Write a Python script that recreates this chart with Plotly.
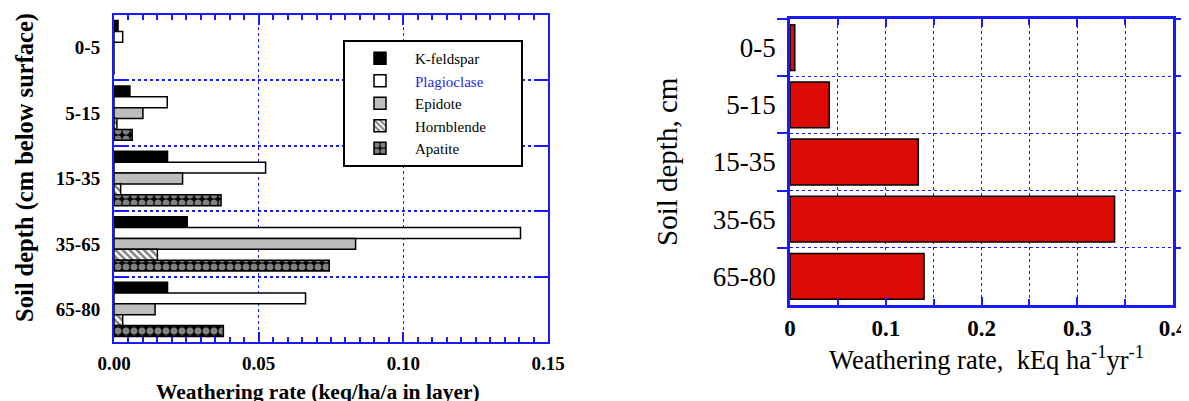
import plotly.graph_objects as go

# page body has an 8px default margin; figure is sized to fill the remaining window
OFF = 8
W, H = 1189 - OFF, 401 - OFF

depths = ["0-5", "5-15", "15-35", "35-65", "65-80"]
minerals = ["K-feldspar", "Plagioclase", "Epidote", "Hornblende", "Apatite"]
kfeldspar = [0.0014, 0.0055, 0.0185, 0.0253, 0.0185]
plagioclase = [0.003, 0.0184, 0.0524, 0.1405, 0.0662]
epidote = [0.0, 0.010, 0.0237, 0.0835, 0.0142]
hornblende = [0.0, 0.001, 0.0023, 0.015, 0.003]
apatite = [0.0, 0.0063, 0.037, 0.0744, 0.0378]
total_rate = [0.005, 0.041, 0.134, 0.339, 0.140]

left_xticks = [0.0, 0.05, 0.10, 0.15]
right_xticks = [0, 0.1, 0.2, 0.3, 0.4]

BLUE = "#1a1aff"
SERIF = "Liberation Serif"

def px_x(p):
    return (p - OFF) / W

def px_y(p):
    return 1 - (p - OFF) / H

fig = go.Figure()

names = [
    minerals[0],
    "<span style='color:#2a2ae0'>" + minerals[1] + "</span>",
    minerals[2],
    minerals[3] + "&nbsp;" * 8,
    minerals[4],
]
markers = [
    dict(color="black"),
    dict(color="white"),
    dict(color="#bdbdbd"),
    dict(color="white", pattern=dict(shape="\\", fgcolor="black", bgcolor="white", size=5, solidity=0.5)),
    dict(color="black", pattern=dict(shape=".", fgcolor="white", bgcolor="black", size=8, solidity=0.6)),
]
values = [kfeldspar, plagioclase, epidote, hornblende, apatite]
for name, vals, mk in zip(names, values, markers):
    mk = dict(mk)
    mk["line"] = dict(color="black", width=1.5)
    fig.add_trace(go.Bar(x=vals, y=depths, orientation="h", name=name, marker=mk,
                         xaxis="x", yaxis="y", showlegend=True))

fig.add_trace(go.Bar(x=total_rate, y=depths, orientation="h", name="Total",
                     marker=dict(color="#dc0a05", line=dict(color="black", width=1.5)),
                     width=0.8, xaxis="x2", yaxis="y2", showlegend=False))

fig.update_layout(
    width=W, height=H,
    margin=dict(l=0, r=0, t=0, b=0, autoexpand=False),
    paper_bgcolor="white", plot_bgcolor="white",
    barmode="group", bargap=0.17, bargroupgap=0,
    font=dict(family=SERIF, color="black"),
    showlegend=True,
    legend=dict(x=px_x(343), y=px_y(40), xanchor="left", yanchor="top",
                bgcolor="white", bordercolor="black", borderwidth=2,
                font=dict(family=SERIF, size=15, color="black"),
                traceorder="normal", itemwidth=60),
    xaxis=dict(domain=[px_x(114), px_x(548)], range=[0, 0.15], anchor="y",
               tickvals=left_xticks, tickformat=".2f", automargin=False,
               ticks="inside", ticklen=10, tickwidth=2, tickcolor=BLUE,
               minor=dict(dtick=0.005, ticks="inside", ticklen=5, tickwidth=1.5, tickcolor=BLUE, showgrid=False),
               showline=True, linecolor=BLUE, linewidth=2, mirror="ticks",
               showgrid=True, gridcolor=BLUE, griddash="dot", gridwidth=1.2,
               zeroline=False, ticklabelstandoff=3,
               tickfont=dict(family=SERIF, size=19, weight="bold")),
    yaxis=dict(domain=[px_y(342), px_y(15)], anchor="x", autorange="reversed",
               type="category", tickson="boundaries", automargin=False,
               ticks="inside", ticklen=13, tickwidth=2, tickcolor=BLUE,
               showline=True, linecolor=BLUE, linewidth=2, mirror="ticks",
               showgrid=True, gridcolor=BLUE, griddash="dot", gridwidth=1.8,
               zeroline=False, ticklabelstandoff=8,
               tickfont=dict(family=SERIF, size=19, weight="bold")),
    xaxis2=dict(domain=[px_x(790), px_x(1173)], range=[0, 0.4], anchor="y2",
                tickvals=right_xticks, automargin=False, ticklabeloverflow="allow",
                ticks="inside", ticklen=8, tickwidth=2, tickcolor=BLUE,
                minor=dict(dtick=0.05, ticks="inside", ticklen=6, tickwidth=2, tickcolor=BLUE,
                           showgrid=True, gridcolor=BLUE, griddash="dot", gridwidth=1),
                showline=True, linecolor=BLUE, linewidth=2.5, mirror="ticks",
                showgrid=True, gridcolor=BLUE, griddash="dot", gridwidth=1,
                zeroline=False, ticklabelstandoff=1,
                tickfont=dict(family=SERIF, size=23, weight="bold")),
    yaxis2=dict(domain=[px_y(305), px_y(19)], anchor="x2", autorange="reversed",
                type="category", tickson="boundaries", automargin=False,
                ticks="outside", ticklen=10, tickwidth=2, tickcolor=BLUE,
                showline=True, linecolor=BLUE, linewidth=2.5, mirror="ticks",
                showgrid=True, gridcolor=BLUE, griddash="dot", gridwidth=1,
                zeroline=False, ticklabelstandoff=6,
                tickfont=dict(family=SERIF, size=27)),
)

annotations = [
    dict(text="<b>Soil depth (cm below surface)</b>", x=px_x(25), y=px_y(168), textangle=-90,
         font=dict(family=SERIF, size=24.5)),
    dict(text="<b>Weathering rate (keq/ha/a in layer)</b>", x=px_x(318), y=px_y(392),
         font=dict(family=SERIF, size=21.5)),
    dict(text="Soil depth, cm", x=px_x(667), y=px_y(162), textangle=-90,
         font=dict(family=SERIF, size=29)),
    dict(text="Weathering rate,  kEq ha<sup>-1</sup>yr<sup>-1</sup>", x=px_x(986), y=px_y(358),
         font=dict(family=SERIF, size=26.5)),
]
for a in annotations:
    a.update(xref="paper", yref="paper", showarrow=False, xanchor="center", yanchor="middle")
fig.update_layout(annotations=annotations)

fig.write_html("out.html")
